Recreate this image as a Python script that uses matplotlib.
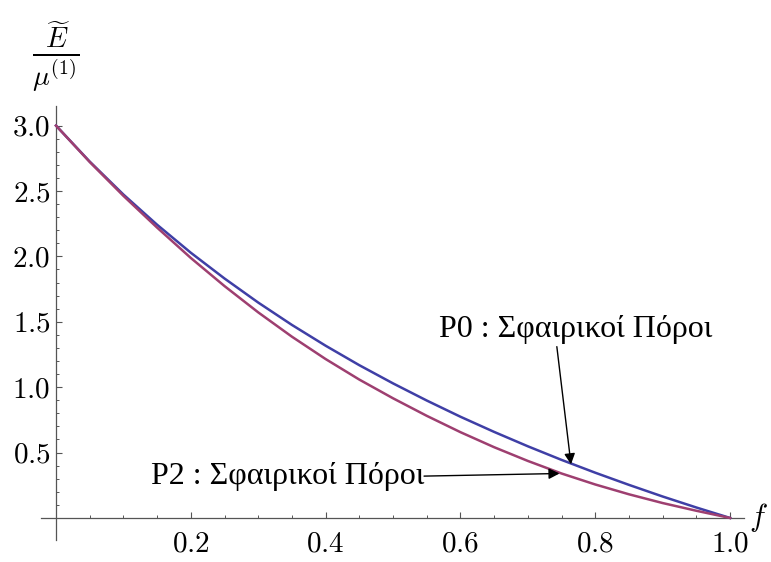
import numpy as np
import matplotlib
matplotlib.use('Agg')
import matplotlib.pyplot as plt
from matplotlib.ticker import FixedLocator, FuncFormatter

plt.rcParams['mathtext.fontset'] = 'cm'
plt.rcParams['font.family'] = ['Liberation Serif', 'DejaVu Serif']

# porosity f
f = [0.0, 0.05, 0.1, 0.15, 0.2, 0.25, 0.3, 0.35, 0.4, 0.45, 0.5,
     0.55, 0.6, 0.65, 0.7, 0.75, 0.8, 0.85, 0.9, 0.95, 1.0]
# P0 : spherical pores (blue)
e_p0 = [3.0, 2.725, 2.473, 2.242, 2.028, 1.831, 1.647, 1.476, 1.317, 1.168, 1.029,
        0.898, 0.774, 0.658, 0.548, 0.444, 0.346, 0.253, 0.164, 0.080, 0.0]
# P2 : spherical pores (purple)
e_p2 = [3.0, 2.722, 2.463, 2.220, 1.988, 1.773, 1.572, 1.386, 1.215, 1.058, 0.915,
        0.781, 0.656, 0.541, 0.436, 0.340, 0.256, 0.181, 0.114, 0.055, 0.0]

xticks = [0.2, 0.4, 0.6, 0.8, 1.0]
yticks = [0.5, 1.0, 1.5, 2.0, 2.5, 3.0]

fig = plt.figure(figsize=(7.71, 5.62), dpi=100)
ax = fig.add_axes([0.0534, 0.0388, 0.911, 0.7726])

ax.plot(f, e_p0, color='#3f3fa6', lw=1.8, zorder=3)
ax.plot(f, e_p2, color='#9e3f70', lw=1.8, zorder=3)

ax.set_xlim(-0.022, 1.02)
ax.set_ylim(-0.17, 3.15)

for s in ['top', 'right']:
    ax.spines[s].set_visible(False)
ax.spines['left'].set_position(('data', 0))
ax.spines['bottom'].set_position(('data', 0))
for s in ['left', 'bottom']:
    ax.spines[s].set_color('#555555')
    ax.spines[s].set_linewidth(0.9)

ax.xaxis.set_major_locator(FixedLocator(xticks))
ax.yaxis.set_major_locator(FixedLocator(yticks))
ax.xaxis.set_minor_locator(FixedLocator([x / 20 for x in range(1, 21) if x % 4]))
ax.yaxis.set_minor_locator(FixedLocator([y / 10 for y in range(1, 31) if y % 5]))
fmt = FuncFormatter(lambda v, p: r'$%.1f$' % v)
ax.xaxis.set_major_formatter(fmt)
ax.yaxis.set_major_formatter(fmt)

ax.tick_params(which='major', direction='in', length=4, width=0.8,
               color='#555555', labelsize=21)
ax.tick_params(which='minor', direction='in', length=2.2, width=0.7,
               color='#555555')
ax.tick_params(axis='x', which='major', pad=10)
ax.tick_params(axis='y', which='major', pad=4)

# axis labels
fig.text(56 / 771, 1 - 57 / 562, r'$\frac{\widetilde{E}}{\mu^{(1)}}$',
         ha='center', va='center', fontsize=29)
fig.text(758 / 771, 1 - 518 / 562, r'$f$', ha='center', va='center', fontsize=22)

arrow = dict(arrowstyle='-|>', color='black', lw=1.0, mutation_scale=16,
             shrinkA=0, shrinkB=0)
ax.text(0.771, 1.44, 'P0 : Σφαιρικοί Πόροι', ha='center', va='center', fontsize=23)
ax.annotate('', xy=(0.764, 0.41), xytext=(0.743, 1.31), arrowprops=arrow)
ax.annotate('', xy=(0.747, 0.34), xytext=(0.546, 0.32), arrowprops=arrow)
ax.text(0.546, 0.32, 'P2 : Σφαιρικοί Πόροι', ha='right', va='center', fontsize=23)

fig.savefig('out.png', dpi=100)
